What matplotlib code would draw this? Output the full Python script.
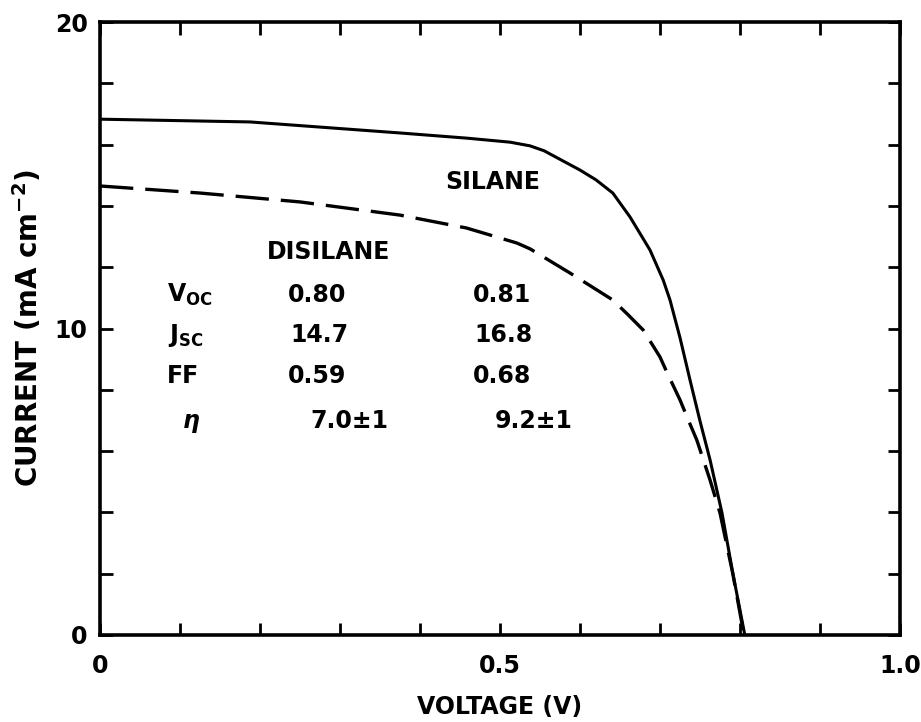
import matplotlib
matplotlib.use("Agg")
import matplotlib.pyplot as plt
import numpy as np

plt.rcParams["font.family"] = "DejaVu Sans"
plt.rcParams["font.weight"] = "bold"
plt.rcParams["axes.labelweight"] = "bold"
plt.rcParams["mathtext.fontset"] = "dejavusans"

# I-V curves
silane_v = [0.0, 0.1875, 0.375, 0.459, 0.5125, 0.5375, 0.555, 0.575, 0.6, 0.62, 0.641,
            0.6625, 0.6875, 0.704, 0.7125, 0.725, 0.7375, 0.75, 0.7625, 0.7775, 0.791, 0.806]
silane_i = [16.83, 16.74, 16.38, 16.21, 16.08, 15.96, 15.8, 15.52, 15.17, 14.85, 14.42,
            13.64, 12.56, 11.58, 10.93, 9.7, 8.32, 6.98, 5.72, 3.98, 2.02, 0.0]

disilane_v = [0.0, 0.125, 0.25, 0.375, 0.458, 0.521, 0.5375, 0.5875, 0.621, 0.641, 0.66,
              0.679, 0.7, 0.709, 0.725, 0.734, 0.746, 0.7625, 0.775, 0.791, 0.805]
disilane_i = [14.65, 14.42, 14.13, 13.7, 13.28, 12.79, 12.6, 11.81, 11.26, 10.93, 10.45,
              9.95, 9.07, 8.55, 7.67, 7.1, 6.36, 5.06, 3.98, 2.0, 0.0]

# parameter table
param_labels = [r"$\mathbf{V_{OC}}$", r"$\mathbf{J_{SC}}$", "FF", r"$\eta$"]
disilane_vals = ["0.80", "14.7", "0.59", "7.0±1"]
silane_vals = ["0.81", "16.8", "0.68", "9.2±1"]

x_ticks = np.arange(0, 1.01, 0.1)
y_ticks = np.arange(0, 20.1, 2)
x_labels = {0.0: "0", 0.5: "0.5", 1.0: "1.0"}
y_labels = {0: "0", 10: "10", 20: "20"}

fig = plt.figure(figsize=(9.21, 7.22), dpi=100)
ax = fig.add_axes([0.1086, 0.1205, 0.8686, 0.849])

ax.plot(silane_v, silane_i, color="black", lw=2.2, solid_joinstyle="round")
ax.plot(disilane_v, disilane_i, color="black", lw=2.4, linestyle=(0, (10, 3.6)))

ax.set_xlim(0, 1.0)
ax.set_ylim(0, 20)
ax.set_xticks(x_ticks)
ax.set_yticks(y_ticks)
ax.set_xticklabels([x_labels.get(round(t, 1), "") for t in x_ticks])
ax.set_yticklabels([y_labels.get(int(round(t)), "") for t in y_ticks])
ax.tick_params(direction="in", length=9, width=2, top=True, right=True, labelsize=17)
ax.tick_params(axis="x", pad=14)
ax.tick_params(axis="y", pad=9)
for s in ax.spines.values():
    s.set_linewidth(2.6)

ax.set_xlabel("VOLTAGE (V)", fontsize=17, labelpad=12)
ax.set_ylabel(r"CURRENT (mA cm$^{\mathbf{-2}}$)", fontsize=20, labelpad=8)

ax.text(0.491, 14.78, "SILANE", fontsize=17, ha="center", va="center")
ax.text(0.286, 12.5, "DISILANE", fontsize=17, ha="center", va="center")

row_y = [10.86, 9.56, 8.22, 6.75]
label_x = [0.084, 0.085, 0.084, 0.1025]
dis_x = [0.235, 0.2375, 0.235, 0.2625]
sil_x = [0.466, 0.468, 0.466, 0.494]
for lab, lx, dx, sx, y, dv, sv in zip(param_labels, label_x, dis_x, sil_x, row_y,
                                      disilane_vals, silane_vals):
    ax.text(lx, y, lab, fontsize=17, ha="left", va="baseline")
    ax.text(dx, y, dv, fontsize=17, ha="left", va="baseline")
    ax.text(sx, y, sv, fontsize=17, ha="left", va="baseline")

fig.savefig("out.png", dpi=100)
